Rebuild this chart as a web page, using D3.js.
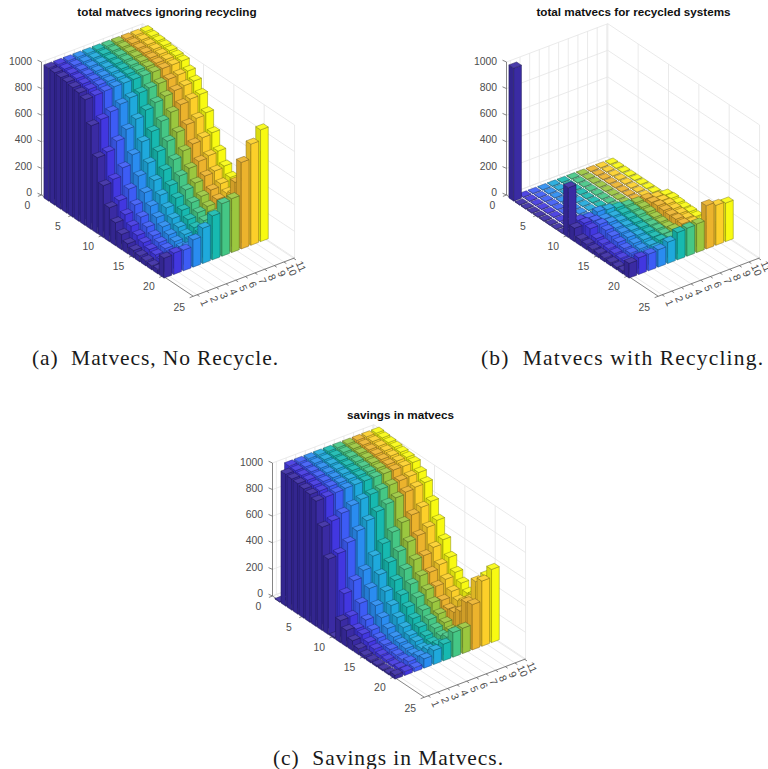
<!DOCTYPE html>
<html>
<head>
<meta charset="utf-8">
<script src="https://d3js.org/d3.v7.min.js"></script>
<style>
  html, body { margin: 0; padding: 0; background: #fff; overflow: hidden; }
  svg { display: block; }
  .plot { filter: blur(0.35px); }
</style>
</head>
<body>
<div id="chart"></div>
<script>
// tick labels and categories
const xTicks = [1, 2, 3, 4, 5, 6, 7, 8, 9, 10, 11]
const yTicks = [0, 5, 10, 15, 20, 25]
const zTicks = [0, 200, 400, 600, 800, 1000]
const rows = [1, 2, 3, 4, 5, 6, 7, 8, 9, 10, 11, 12, 13, 14, 15, 16, 17, 18, 19, 20]
const columnColors = ["#3a2ba3", "#4237e0", "#3d5cf5", "#2a8cf0", "#1fa9dc", "#17b9b0", "#45c785", "#9bc73f", "#ecb32d", "#fccf2a", "#f8fa12"]

// one line per y value, columns are x = 1..11
const ignoring = [
  [1000, 1000, 1000, 1000, 1000, 1000, 1000, 1000, 1000, 1000, 1000],
  [995, 995, 995, 995, 995, 995, 995, 995, 995, 995, 995],
  [990, 990, 990, 990, 990, 990, 990, 990, 990, 990, 990],
  [985, 985, 985, 985, 985, 985, 985, 985, 985, 985, 985],
  [975, 975, 978, 978, 978, 978, 978, 978, 978, 978, 978],
  [965, 965, 970, 970, 970, 970, 970, 970, 970, 970, 970],
  [945, 950, 955, 960, 960, 960, 960, 960, 960, 960, 962],
  [780, 800, 830, 860, 880, 890, 900, 905, 910, 915, 917],
  [570, 585, 640, 700, 750, 790, 820, 840, 855, 865, 872],
  [390, 410, 470, 540, 610, 660, 710, 750, 780, 795, 802],
  [255, 280, 340, 410, 480, 540, 590, 630, 660, 680, 695],
  [172, 205, 250, 315, 380, 430, 480, 520, 545, 565, 575],
  [115, 150, 190, 245, 300, 345, 390, 420, 445, 460, 467],
  [75, 110, 145, 190, 235, 280, 315, 340, 365, 375, 385],
  [55, 85, 110, 150, 185, 220, 250, 270, 290, 310, 330],
  [45, 65, 90, 120, 150, 180, 205, 225, 250, 270, 285],
  [38, 55, 75, 100, 125, 150, 175, 195, 250, 290, 300],
  [32, 45, 65, 85, 110, 135, 160, 180, 300, 350, 380],
  [35, 60, 90, 120, 150, 190, 240, 270, 470, 560, 620],
  [150, 160, 155, 205, 265, 330, 395, 405, 650, 760, 840]
]

const recycled = [
  [1000, 4, 4, 4, 4, 4, 4, 4, 4, 4, 4],
  [3, 4, 4, 4, 4, 4, 4, 4, 4, 4, 4],
  [3, 4, 4, 4, 4, 4, 4, 4, 4, 4, 4],
  [3, 4, 4, 4, 4, 4, 4, 4, 4, 4, 4],
  [3, 4, 4, 4, 4, 4, 4, 4, 4, 4, 4],
  [3, 4, 4, 4, 4, 4, 4, 4, 4, 4, 4],
  [3, 4, 4, 4, 4, 4, 4, 4, 4, 4, 4],
  [3, 4, 4, 4, 4, 4, 4, 4, 4, 4, 4],
  [3, 4, 4, 4, 4, 4, 4, 4, 4, 4, 4],
  [375, 100, 90, 110, 100, 85, 75, 70, 70, 55, 45],
  [100, 110, 100, 85, 80, 75, 70, 65, 75, 60, 50],
  [45, 100, 105, 90, 75, 70, 65, 60, 80, 65, 45],
  [40, 55, 90, 80, 70, 65, 55, 50, 75, 60, 40],
  [32, 45, 75, 75, 65, 60, 50, 45, 70, 55, 40],
  [30, 40, 60, 70, 60, 55, 50, 40, 70, 50, 35],
  [28, 35, 45, 55, 55, 50, 45, 50, 65, 50, 35],
  [25, 30, 40, 45, 45, 55, 50, 55, 60, 50, 40],
  [22, 28, 35, 40, 50, 60, 60, 70, 70, 60, 45],
  [25, 35, 45, 60, 70, 100, 120, 130, 110, 90, 70],
  [110, 125, 125, 130, 160, 205, 210, 215, 325, 300, 290]
]

const savings = [
  [3, 996, 996, 996, 996, 996, 996, 996, 996, 996, 996],
  [992, 991, 991, 991, 991, 991, 991, 991, 991, 991, 991],
  [987, 986, 986, 986, 986, 986, 986, 986, 986, 986, 986],
  [982, 981, 981, 981, 981, 981, 981, 981, 981, 981, 981],
  [972, 971, 974, 974, 974, 974, 974, 974, 974, 974, 974],
  [962, 961, 966, 966, 966, 966, 966, 966, 966, 966, 966],
  [942, 946, 951, 956, 956, 956, 956, 956, 956, 956, 958],
  [777, 796, 826, 856, 876, 886, 896, 901, 906, 911, 913],
  [567, 581, 636, 696, 746, 786, 816, 836, 851, 861, 868],
  [12, 310, 380, 430, 510, 575, 635, 680, 710, 740, 757],
  [165, 170, 240, 325, 400, 465, 520, 565, 585, 620, 645],
  [122, 105, 145, 225, 305, 360, 415, 460, 465, 500, 530],
  [75, 95, 100, 165, 230, 280, 335, 370, 370, 400, 427],
  [45, 65, 70, 115, 170, 220, 265, 295, 295, 320, 345],
  [25, 45, 50, 80, 125, 165, 200, 230, 220, 260, 295],
  [17, 30, 45, 65, 95, 130, 160, 175, 185, 220, 250],
  [13, 25, 35, 55, 80, 95, 125, 140, 190, 240, 260],
  [10, 17, 30, 45, 60, 75, 100, 110, 230, 290, 335],
  [10, 25, 45, 60, 80, 90, 120, 140, 325, 455, 470],
  [30, 30, 30, 70, 105, 125, 185, 190, 340, 490, 550]
]

const panels = [
  { title: "total matvecs ignoring recycling", titleX: 167, titleY: 16, ox: 41.5, oy: 195, values: ignoring },
  { title: "total matvecs for recycled systems", titleX: 633.5, titleY: 16, ox: 506.5, oy: 195, values: recycled },
  { title: "savings in matvecs", titleX: 400.5, titleY: 419, ox: 272.5, oy: 596, values: savings }
]

const captions = [
  { text: "(a)  Matvecs, No Recycle.", x: 32, y: 365, len: 246 },
  { text: "(b)  Matvecs with Recycling.", x: 481, y: 365, len: 282 },
  { text: "(c)  Savings in Matvecs.", x: 273, y: 765, len: 230 }
]

// oblique view: every data axis moves the point along its own screen direction
const xToX = d3.scaleLinear().domain([0.6, 11.1]).range([0, 101.3])
const xToY = d3.scaleLinear().domain([0.6, 11.1]).range([0, -38.3])
const yToX = d3.scaleLinear().domain([0, 25]).range([0, 151.75])
const yToY = d3.scaleLinear().domain([0, 25]).range([0, 101.25])
const zToY = d3.scaleLinear().domain([0, 1000]).range([0, -133])
const xMin = 0.6, xMax = 11.1, yMax = 25, zMax = 1000
const barHalf = 0.4
const barShift = 0.13 // bars sit a little left of the tick position in the picture

const svg = d3.select("#chart").append("svg").attr("width", 768).attr("height", 769)
const line = d3.line()

function shade(color, k) {
  const c = d3.rgb(color)
  return d3.rgb(c.r * k, c.g * k, c.b * k).formatHex()
}
function lighten(color, t) {
  return d3.interpolateRgb(color, "#fff")(t)
}

function drawPanel(p) {
  const project = (x, y, z) => [p.ox + xToX(x) + yToX(y), p.oy + xToY(x) + yToY(y) + zToY(z)]
  const poly = pts => line(pts) + "Z"
  const g = svg.append("g").attr("class", "plot")

  // grid on floor and the two back walls
  const gridLines = []
  xTicks.forEach(t => {
    gridLines.push([project(t, 0, 0), project(t, yMax, 0)])
    gridLines.push([project(t, 0, 0), project(t, 0, zMax)])
  })
  yTicks.forEach(t => {
    gridLines.push([project(xMin, t, 0), project(xMax, t, 0)])
    gridLines.push([project(xMax, t, 0), project(xMax, t, zMax)])
  })
  zTicks.forEach(t => {
    gridLines.push([project(xMin, 0, t), project(xMax, 0, t)])
    gridLines.push([project(xMax, 0, t), project(xMax, yMax, t)])
  })
  g.selectAll(".grid").data(gridLines).join("path")
    .attr("class", "grid")
    .attr("d", d => line(d))
    .attr("fill", "none")
    .attr("stroke", "#e4e4e4")
    .attr("stroke-width", 0.8)

  // axis lines
  const axisLines = [
    [project(xMin, 0, 0), project(xMin, 0, zMax)],
    [project(xMin, 0, 0), project(xMin, yMax, 0)],
    [project(xMin, yMax, 0), project(xMax, yMax, 0)]
  ]
  zTicks.forEach(t => {
    const a = project(xMin, 0, t)
    axisLines.push([a, [a[0] - 4, a[1] - 1.8]])
  })
  yTicks.forEach(t => {
    const a = project(xMin, t, 0)
    axisLines.push([a, [a[0] - 3.6, a[1] + 1.4]])
  })
  xTicks.forEach(t => {
    const a = project(t, yMax, 0)
    axisLines.push([a, [a[0] + 2.4, a[1] + 1.6]])
  })
  g.selectAll(".axisline").data(axisLines).join("path")
    .attr("class", "axisline")
    .attr("d", d => line(d))
    .attr("fill", "none")
    .attr("stroke", "#666")
    .attr("stroke-width", 0.8)

  // far bars first
  const bars = []
  for (let xi = xTicks.length - 1; xi >= 0; xi--) {
    rows.forEach((y, yi) => {
      bars.push({ x: xTicks[xi] - barShift, y: y, z: p.values[yi][xi], color: columnColors[xi] })
    })
  }

  const bar = g.selectAll(".bar").data(bars).join("g").attr("class", "bar")
    .attr("stroke", d => shade(d.color, 0.5))
    .attr("stroke-opacity", 0.85)
    .attr("stroke-width", 0.55)
    .attr("stroke-linejoin", "round")

  bar.append("path") // low x side
    .attr("fill", d => shade(d.color, 0.88))
    .attr("d", d => poly([
      project(d.x - barHalf, d.y - barHalf, 0), project(d.x - barHalf, d.y + barHalf, 0),
      project(d.x - barHalf, d.y + barHalf, d.z), project(d.x - barHalf, d.y - barHalf, d.z)
    ]))
  bar.append("path") // high y side
    .attr("fill", d => d.color)
    .attr("d", d => poly([
      project(d.x - barHalf, d.y + barHalf, 0), project(d.x + barHalf, d.y + barHalf, 0),
      project(d.x + barHalf, d.y + barHalf, d.z), project(d.x - barHalf, d.y + barHalf, d.z)
    ]))
  bar.append("path") // top
    .attr("fill", d => lighten(d.color, 0.08))
    .attr("d", d => poly([
      project(d.x - barHalf, d.y - barHalf, d.z), project(d.x + barHalf, d.y - barHalf, d.z),
      project(d.x + barHalf, d.y + barHalf, d.z), project(d.x - barHalf, d.y + barHalf, d.z)
    ]))

  // tick labels
  const text = svg.append("g")
    .attr("font-family", "'Liberation Sans', Arial, sans-serif")
    .attr("font-size", 10.4)
    .attr("fill", "#4d4d4d")

  text.selectAll(".zlab").data(zTicks).join("text")
    .attr("class", "zlab")
    .attr("text-anchor", "end")
    .attr("x", p.ox - 9.5)
    .attr("y", d => p.oy + zToY(d) * 0.98 + 0.6)
    .text(d => d)

  text.selectAll(".ylab").data(yTicks).join("text")
    .attr("class", "ylab")
    .attr("text-anchor", "middle")
    .attr("x", d => project(xMin, d, 0)[0] - 14)
    .attr("y", d => project(xMin, d, 0)[1] + 14.3)
    .text(d => d)

  text.selectAll(".xlab").data(xTicks).join("text")
    .attr("class", "xlab")
    .attr("text-anchor", "middle")
    .attr("transform", d => {
      const a = project(d, yMax, 0)
      return `translate(${a[0] + 7.5},${a[1] + 8}) rotate(65)`
    })
    .attr("dy", "0.35em")
    .text(d => d)

  svg.append("text")
    .attr("x", p.titleX)
    .attr("y", p.titleY)
    .attr("text-anchor", "middle")
    .attr("font-family", "'Liberation Sans', Arial, sans-serif")
    .attr("font-weight", "bold")
    .attr("font-size", 11.7)
    .attr("fill", "#111")
    .text(p.title)
}

panels.forEach(drawPanel)

svg.selectAll(".caption").data(captions).join("text")
  .attr("class", "caption")
  .attr("x", d => d.x)
  .attr("y", d => d.y)
  .attr("textLength", d => d.len)
  .attr("lengthAdjust", "spacing")
  .attr("font-family", "'Liberation Serif', serif")
  .attr("font-size", 21.5)
  .attr("fill", "#1a1a1a")
  .style("white-space", "pre")
  .text(d => d.text)
</script>
</body>
</html>
